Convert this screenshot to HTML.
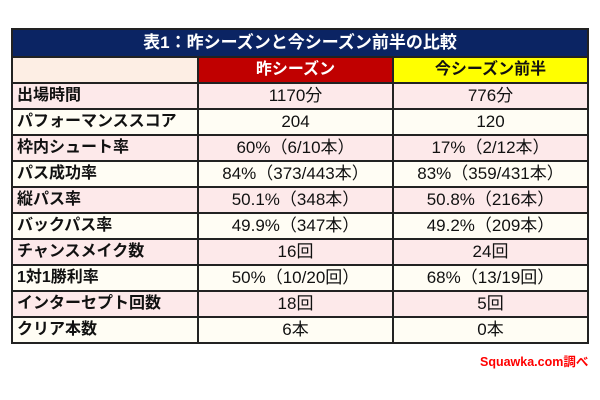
<!DOCTYPE html>
<html><head><meta charset="utf-8"><style>
body{margin:0;width:600px;height:400px;background:#fff;font-family:"Liberation Sans","Noto Sans CJK JP",sans-serif;position:relative;overflow:hidden}
table{position:absolute;left:11px;top:28px;width:576px;border-collapse:collapse;table-layout:fixed}
td{border:2px solid #222;padding:0;height:24px;font-size:17px;color:#111;text-align:center;white-space:nowrap;line-height:20px}
td.l{text-align:left;padding-left:4px;font-weight:bold;font-size:16px}
tr.p td{background:#fde9ea}
tr.c td{background:#fffdf4}
.t td{background:#0b2463;color:#fff;font-weight:bold;font-size:17px;height:26px}
.src{position:absolute;left:480px;top:351px;color:#f00;font-weight:bold;font-size:12.5px}
</style></head><body>
<table>
<colgroup><col style="width:186px"><col style="width:195px"><col style="width:195px"></colgroup>
<tr class="t"><td colspan="3">表1：昨シーズンと今シーズン前半の比較</td></tr>
<tr><td style="background:#fdeee4;height:24px"></td><td style="background:#c00000;color:#fff;font-weight:bold;font-size:16px">昨シーズン</td><td style="background:#ffff00;font-weight:bold;font-size:16px">今シーズン前半</td></tr>
<tr class="p"><td class="l">出場時間</td><td>1170分</td><td>776分</td></tr>
<tr class="c"><td class="l">パフォーマンススコア</td><td>204</td><td>120</td></tr>
<tr class="p"><td class="l">枠内シュート率</td><td>60%（6/10本）</td><td>17%（2/12本）</td></tr>
<tr class="c"><td class="l">パス成功率</td><td>84%（373/443本）</td><td>83%（359/431本）</td></tr>
<tr class="p"><td class="l">縦パス率</td><td>50.1%（348本）</td><td>50.8%（216本）</td></tr>
<tr class="c"><td class="l">バックパス率</td><td>49.9%（347本）</td><td>49.2%（209本）</td></tr>
<tr class="p"><td class="l">チャンスメイク数</td><td>16回</td><td>24回</td></tr>
<tr class="c"><td class="l">1対1勝利率</td><td>50%（10/20回）</td><td>68%（13/19回）</td></tr>
<tr class="p"><td class="l">インターセプト回数</td><td>18回</td><td>5回</td></tr>
<tr class="c"><td class="l">クリア本数</td><td>6本</td><td>0本</td></tr>
</table>
<div class="src">Squawka.com調べ</div>
</body></html>
